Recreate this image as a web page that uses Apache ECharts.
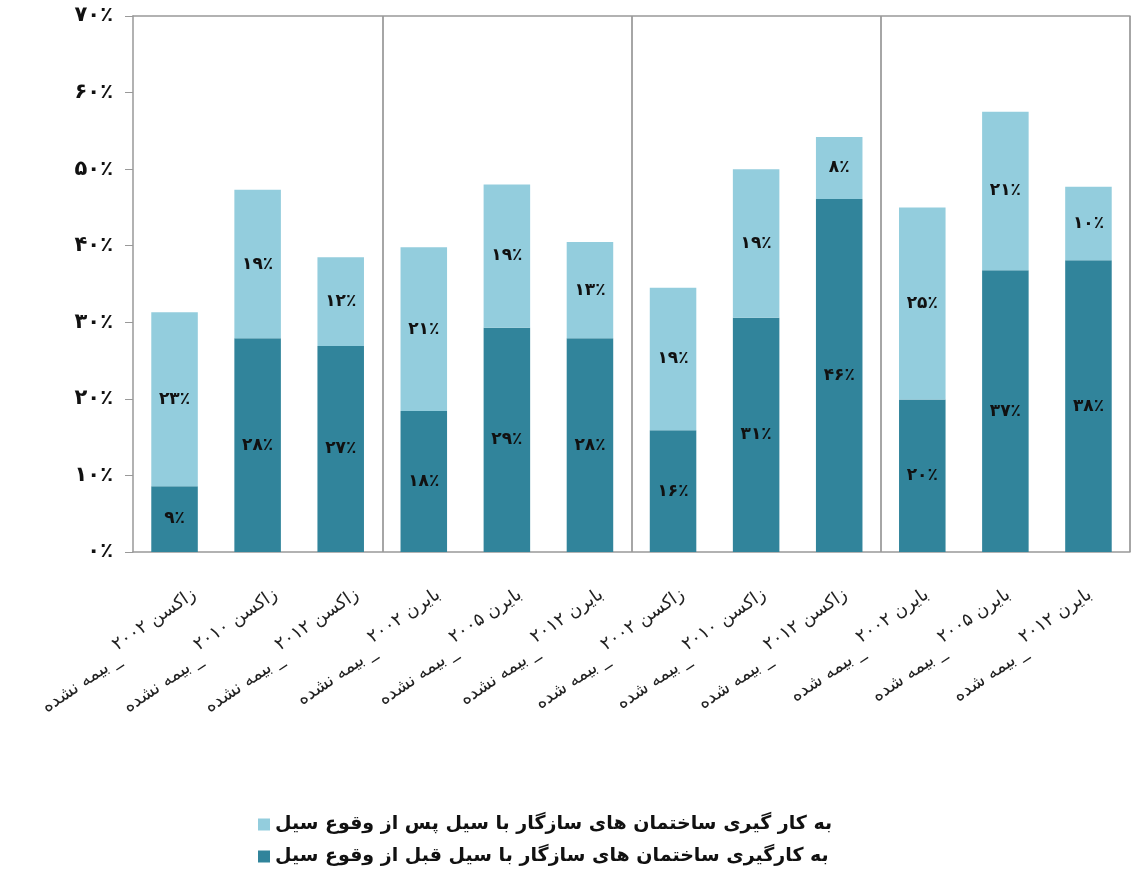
<!DOCTYPE html>
<html>
<head>
<meta charset="utf-8">
<script src="https://cdn.jsdelivr.net/npm/echarts@6/dist/echarts.min.js"></script>
<style>html,body{margin:0;padding:0;background:#fff}#c{width:1134px;height:880px}</style>
</head>
<body>
<div id="c"></div>
<script>
// ---- data ----
const categories = [
  'زاکسن ۲۰۰۲\n_ بیمه نشده',
  'زاکسن ۲۰۱۰\n_ بیمه نشده',
  'زاکسن ۲۰۱۲\n_ بیمه نشده',
  'بایرن ۲۰۰۲\n_ بیمه نشده',
  'بایرن ۲۰۰۵\n_ بیمه نشده',
  'بایرن ۲۰۱۲\n_ بیمه نشده',
  'زاکسن ۲۰۰۲\n_ بیمه شده',
  'زاکسن ۲۰۱۰\n_ بیمه شده',
  'زاکسن ۲۰۱۲\n_ بیمه شده',
  'بایرن ۲۰۰۲\n_ بیمه شده',
  'بایرن ۲۰۰۵\n_ بیمه شده',
  'بایرن ۲۰۱۲\n_ بیمه شده'
];
// percent values (labels show them rounded)
const beforeFlood = [8.6, 27.9, 26.9, 18.4, 29.3, 27.9, 15.9, 30.6, 46.1, 19.9, 36.8, 38.1];
const afterFlood  = [22.7, 19.4, 11.6, 21.4, 18.7, 12.6, 18.6, 19.4, 8.1, 25.1, 20.7, 9.6];
const seriesNames = [
  'به کارگیری ساختمان های سازگار با سیل قبل از وقوع سیل',
  'به کار گیری ساختمان های سازگار با سیل پس از وقوع سیل'
];
const yTicks = [0, 10, 20, 30, 40, 50, 60, 70];
const groupSize = 3;

// ---- chart ----
const RLM = '\u200F';
const fa = n => String(n).replace(/\d/g, d => '۰۱۲۳۴۵۶۷۸۹'[d]);
const FONT = 'DejaVu Sans';
const CAT_FS = 18;
const n = categories.length;

// staggered two-line category labels (second line continues after the first)
const mctx = document.createElement('canvas').getContext('2d');
mctx.font = CAT_FS + 'px "' + FONT + '"';
const rich = { a: { fontFamily: FONT, fontSize: CAT_FS, color: '#222', lineHeight: 12 } };
const catIndex = {};
categories.forEach((c, i) => {
  const first = c.split('\n')[0];
  const w = mctx.measureText(first).width;
  rich['b' + i] = { fontFamily: FONT, fontSize: CAT_FS, color: '#222', lineHeight: 12,
                    padding: [0, w + 2, 0, 0] };
  catIndex[c] = i;
});
const catFormatter = (val) => {
  const [l1, l2] = val.split('\n');
  const i = catIndex[val];
  return '{a|' + l1 + '}\n{b' + i + '|' + RLM + l2 + '}';
};

const chart = echarts.init(document.getElementById('c'));
chart.setOption({
  animation: false,
  textStyle: { fontFamily: FONT },
  grid: [
    { left: 133, right: 4, top: 16, bottom: 328, containLabel: false },
    { left: 157, right: -20, top: 16, bottom: 328, containLabel: false }
  ],
  legend: {
    data: [seriesNames[1], seriesNames[0]],
    orient: 'vertical',
    left: 253, top: 810,
    itemWidth: 12, itemHeight: 12, itemGap: 13,
    icon: 'rect',
    textStyle: { fontFamily: FONT, fontSize: 19, fontWeight: 'bold', color: '#111' }
  },
  xAxis: [{
    type: 'category',
    gridIndex: 0,
    data: categories,
    axisLine: { lineStyle: { color: '#999', width: 1.5 } },
    axisTick: { show: false },
    axisLabel: { show: false },
    splitLine: {
      show: true,
      interval: (i) => i > 0 && i < n && i % groupSize === 0,
      lineStyle: { color: '#888', width: 1.5 }
    }
  }, {
    type: 'category',
    gridIndex: 0,
    data: categories,
    position: 'top',
    axisLine: { show: true, lineStyle: { color: '#999', width: 1.5 } },
    axisTick: { show: false },
    axisLabel: { show: false }
  }, {
    type: 'category',
    gridIndex: 1,
    data: categories,
    position: 'bottom',
    axisLine: { show: false },
    axisTick: { show: false },
    splitLine: { show: false },
    axisLabel: {
      interval: 0, rotate: 34, margin: 46,
      formatter: catFormatter, rich: rich
    }
  }],
  yAxis: [{
    type: 'value',
    gridIndex: 0,
    min: 0, max: 70, interval: 10,
    axisLine: { show: true, lineStyle: { color: '#999', width: 1.5 } },
    axisTick: { show: true, length: 8, lineStyle: { color: '#999' } },
    splitLine: { show: false },
    axisLabel: {
      margin: 20, fontFamily: FONT, fontSize: 21, fontWeight: 'bold', color: '#111',
      formatter: v => yTicks.includes(v) ? fa(v) + '٪' : ''
    }
  }, {
    type: 'value', gridIndex: 1, min: 0, max: 70, show: false
  }],
  series: [{
    name: seriesNames[0], type: 'bar', stack: 's', data: beforeFlood,
    barWidth: '56%',
    itemStyle: { color: '#31849B' },
    label: { show: true, position: 'inside', fontFamily: FONT, fontSize: 17, fontWeight: 'bold', color: '#111',
      formatter: p => fa(Math.round(p.value)) + '٪' }
  }, {
    name: seriesNames[1], type: 'bar', stack: 's', data: afterFlood,
    barWidth: '56%',
    itemStyle: { color: '#93CDDD' },
    label: { show: true, position: 'inside', fontFamily: FONT, fontSize: 17, fontWeight: 'bold', color: '#111',
      formatter: p => fa(Math.round(p.value)) + '٪' }
  }]
});
</script>
</body>
</html>
